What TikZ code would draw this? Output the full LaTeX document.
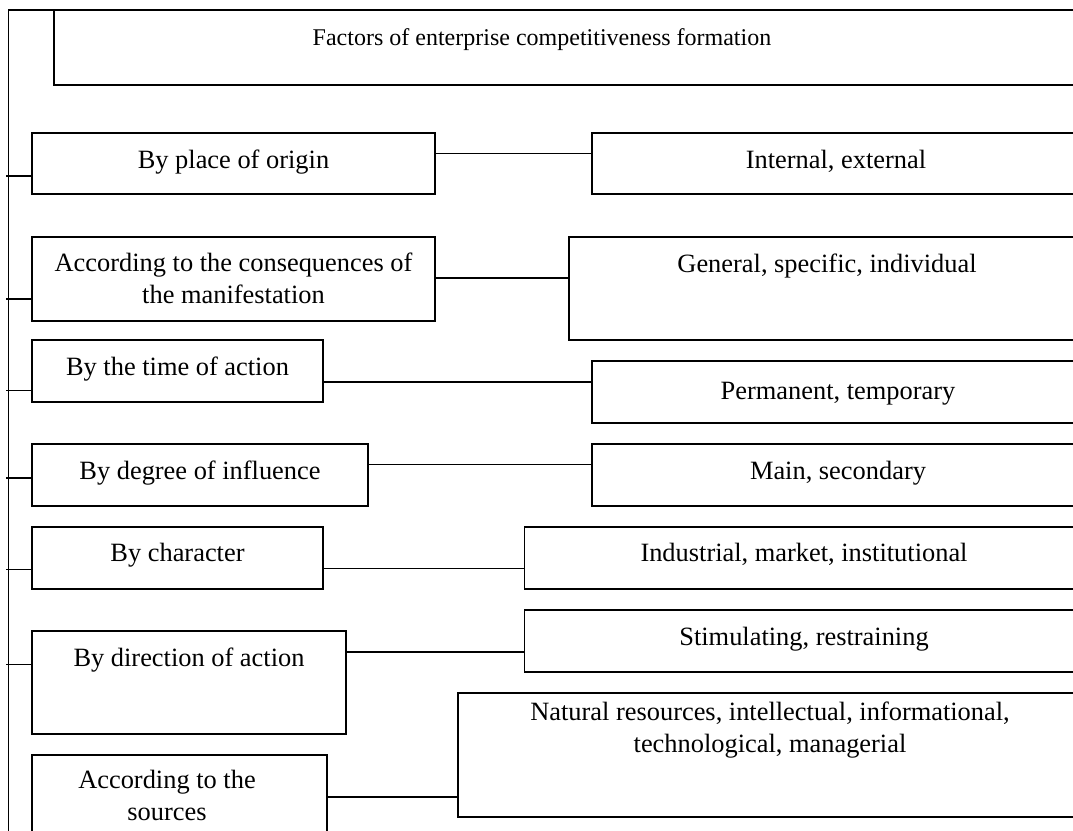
\documentclass[tikz,border=0pt]{standalone}
\usepackage{fontspec}
\setmainfont{Liberation Serif}
\begin{document}
\begin{tikzpicture}[x=1pt,y=-1pt,
  box/.style={draw, line width=1.8pt, rectangle, inner sep=0pt, outer sep=0pt, anchor=north west},
  lbl/.style={inner sep=0pt, anchor=base, font=\fontsize{26.4}{31.6}\selectfont, align=center},
  ttl/.style={inner sep=0pt, anchor=base, font=\fontsize{24}{29}\selectfont},
  ln/.style={line width=1.6pt}]
\useasboundingbox (0,0) rectangle (1073,830);
\clip (0,0) rectangle (1073,830);
% title
\node[box, minimum width=1100pt, minimum height=75.3pt] (T) at (54,9.7) {};
\node[ttl] (Tt) at (542,45) {Factors of enterprise competitiveness formation};
% left boxes
\node[box, minimum width=403pt, minimum height=61pt] (L1) at (32,133) {};
\node[box, minimum width=403pt, minimum height=84.3pt] (L2) at (32,236.7) {};
\node[box, minimum width=291pt, minimum height=61.7pt] (L3) at (32,340) {};
\node[box, minimum width=336pt, minimum height=61.7pt] (L4) at (32,444) {};
\node[box, minimum width=291pt, minimum height=62.3pt] (L5) at (32,526.7) {};
\node[box, minimum width=314pt, minimum height=103.3pt] (L6) at (32,630.7) {};
\node[box, minimum width=295pt, minimum height=100pt] (L7) at (32,755) {};
% right boxes
\node[box, minimum width=500pt, minimum height=61pt] (R1) at (592,133) {};
\node[box, minimum width=520pt, minimum height=103.3pt] (R2) at (569,236.7) {};
\node[box, minimum width=500pt, minimum height=61.7pt] (R3) at (592,361) {};
\node[box, minimum width=500pt, minimum height=61.7pt] (R4) at (592,444) {};
\node[box, minimum width=560pt, minimum height=62.3pt] (R5) at (524.5,526.7) {};
\node[box, minimum width=560pt, minimum height=62pt] (R6) at (524.5,610) {};
\node[box, minimum width=630pt, minimum height=124pt] (R7) at (458,692.7) {};
% texts
\node[lbl] (L1t) at (233.5,168.3) {By place of origin};
\node[lbl] (L2t) at (233.5,303.3) {According to the consequences of\\the manifestation};
\node[lbl] (L3t) at (177.5,375.7) {By the time of action};
\node[lbl] (L4t) at (200,479) {By degree of influence};
\node[lbl] (L5t) at (177.5,561.7) {By character};
\node[lbl] (L6t) at (189,666.7) {By direction of action};
\node[lbl] (L7t) at (167,820) {According to the\\sources};
\node[lbl] (R1t) at (836,168.3) {Internal, external};
\node[lbl] (R2t) at (827,272.5) {General, specific, individual};
\node[lbl] (R3t) at (838,399) {Permanent, temporary};
\node[lbl] (R4t) at (838,479) {Main, secondary};
\node[lbl] (R5t) at (804,561.7) {Industrial, market, institutional};
\node[lbl] (R6t) at (804,645.7) {Stimulating, restraining};
\node[lbl] (R7t) at (770,752) {Natural resources, intellectual, informational,\\technological, managerial};
% spine
\coordinate (sb) at (8.5,840);
\coordinate (st) at (8.5,9.7);
\draw[ln] (sb) -- (st) -- (T.north west);
% connectors
\coordinate (c1) at (0,153.3);
\coordinate (c2) at (0,277.7);
\coordinate (c3) at (0,381.7);
\coordinate (c4) at (0,464.3);
\coordinate (c5) at (0,568.3);
\coordinate (c6) at (0,651.7);
\coordinate (c7) at (0,797);
\draw[ln] (L1.east |- c1) -- (R1.west |- c1);
\draw[ln] (L2.east |- c2) -- (R2.west |- c2);
\draw[ln] (L3.east |- c3) -- (R3.west |- c3);
\draw[ln] (L4.east |- c4) -- (R4.west |- c4);
\draw[ln] (L5.east |- c5) -- (R5.west |- c5);
\draw[ln] (L6.east |- c6) -- (R6.west |- c6);
\draw[ln] (L7.east |- c7) -- (R7.west |- c7);
% ticks
\coordinate (t1) at (6,176);
\coordinate (t2) at (6,299);
\coordinate (t3) at (6,390.5);
\coordinate (t4) at (6,478);
\coordinate (t5) at (6,569.3);
\coordinate (t6) at (6,664.5);
\draw[ln] (t1) -- (L1.west |- t1);
\draw[ln] (t2) -- (L2.west |- t2);
\draw[ln] (t3) -- (L3.west |- t3);
\draw[ln] (t4) -- (L4.west |- t4);
\draw[ln] (t5) -- (L5.west |- t5);
\draw[ln] (t6) -- (L6.west |- t6);
\end{tikzpicture}
\end{document}
